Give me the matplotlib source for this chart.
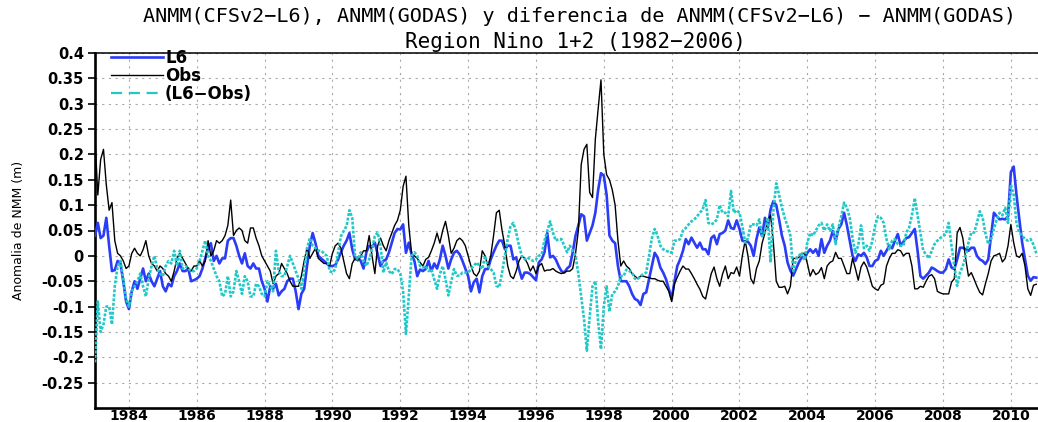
import numpy as np
import matplotlib
matplotlib.use("Agg")
import matplotlib.pyplot as plt
from matplotlib.lines import Line2D

# Monthly sea level anomalies (m), Nino 1+2, starting Jan 1983
start_year = 1983

obs = [
    0.23, 0.12, 0.19, 0.21, 0.14, 0.09, 0.105, 0.03, 0.005, 0.0, -0.01, -0.025,          # 1983
    -0.02, 0.005, 0.015, 0.005, 0.0, 0.012, 0.03, 0.0, -0.015, -0.02, -0.03, -0.02,      # 1984
    -0.025, -0.035, -0.04, -0.05, -0.03, -0.005, 0.005, -0.005, -0.015, -0.025, -0.03, -0.02,  # 1985
    -0.02, -0.01, -0.02, -0.01, 0.03, 0.0, 0.01, 0.03, 0.025, 0.03, 0.04, 0.06,          # 1986
    0.11, 0.04, 0.05, 0.055, 0.05, 0.03, 0.025, 0.055, 0.055, 0.035, 0.02, 0.0,          # 1987
    -0.01, -0.02, -0.03, -0.055, -0.04, -0.035, -0.015, -0.025, -0.035, -0.05, -0.06, -0.06,  # 1988
    -0.06, -0.04, -0.01, 0.015, -0.005, 0.005, 0.015, -0.005, -0.01, -0.015, -0.015, -0.02,  # 1989
    0.005, 0.02, 0.025, 0.015, -0.01, -0.035, -0.045, -0.015, -0.005, -0.01, 0.0, 0.01,  # 1990
    0.01, 0.04, 0.0, -0.035, 0.02, 0.035, 0.02, 0.01, 0.03, 0.045, 0.06, 0.07,           # 1991
    0.09, 0.137, 0.157, 0.06, 0.005, 0.0, -0.005, -0.013, -0.02, -0.007, -0.003, 0.01,   # 1992
    0.025, 0.045, 0.025, 0.05, 0.068, 0.04, 0.005, 0.015, 0.03, 0.035, 0.03, 0.02,       # 1993
    0.0, -0.02, -0.035, -0.04, -0.03, 0.01, 0.0, -0.02, 0.0, 0.04, 0.085, 0.09,          # 1994
    0.05, 0.02, -0.02, -0.04, -0.045, -0.03, -0.01, 0.0, -0.005, -0.015, -0.03, -0.02,   # 1995
    -0.035, -0.02, -0.015, -0.03, -0.028, -0.028, -0.025, -0.03, -0.033, -0.035, -0.033, -0.03,  # 1996
    -0.03, -0.025, 0.005, 0.05, 0.18, 0.21, 0.22, 0.125, 0.115, 0.23, 0.29, 0.347,       # 1997
    0.2, 0.16, 0.15, 0.13, 0.1, 0.03, -0.02, -0.01, -0.02, -0.025, -0.035, -0.04,        # 1998
    -0.045, -0.04, -0.04, -0.042, -0.043, -0.045, -0.045, -0.048, -0.05, -0.05, -0.06, -0.07,  # 1999
    -0.09, -0.055, -0.042, -0.03, -0.02, -0.026, -0.026, -0.035, -0.045, -0.056, -0.066, -0.08,  # 2000
    -0.085, -0.06, -0.035, -0.022, -0.045, -0.06, -0.036, -0.02, -0.045, -0.033, -0.035, -0.022,  # 2001
    -0.04, 0.0, 0.03, 0.0, -0.045, -0.055, -0.025, -0.01, 0.025, 0.045, 0.07, 0.08,      # 2002
    0.025, -0.05, -0.062, -0.062, -0.06, -0.075, -0.06, -0.005, -0.005, -0.003, 0.005, 0.005,  # 2003
    -0.015, -0.04, -0.027, -0.037, -0.033, -0.023, -0.045, -0.02, -0.013, -0.01, 0.007, -0.005,  # 2004
    -0.005, -0.02, -0.035, -0.035, -0.005, -0.025, -0.048, -0.022, -0.012, -0.022, -0.04, -0.06,  # 2005
    -0.065, -0.068, -0.058, -0.055, -0.02, -0.005, 0.005, 0.005, 0.012, 0.01, 0.0, 0.005,  # 2006
    0.005, -0.02, -0.065, -0.065, -0.06, -0.062, -0.05, -0.04, -0.037, -0.045, -0.07, -0.073,  # 2007
    -0.075, -0.075, -0.075, -0.052, -0.045, 0.045, 0.056, 0.035, -0.005, -0.04, -0.033, -0.046,  # 2008
    -0.06, -0.072, -0.077, -0.055, -0.035, -0.01, 0.0, 0.002, 0.005, -0.012, -0.005, 0.02,  # 2009
    0.062, 0.026, 0.0, -0.003, 0.005, -0.02, -0.065, -0.078, -0.058, -0.056,             # 2010
]

l6 = [
    0.04, 0.065, 0.035, 0.04, 0.075, 0.02, -0.03, -0.028, -0.01, -0.015, -0.05, -0.09,   # 1983
    -0.105, -0.07, -0.05, -0.065, -0.045, -0.025, -0.05, -0.035, -0.05, -0.06, -0.045, -0.03,  # 1984
    -0.06, -0.07, -0.055, -0.06, -0.04, -0.03, -0.015, -0.03, -0.03, -0.025, -0.05, -0.048,  # 1985
    -0.045, -0.04, -0.025, -0.005, 0.015, 0.025, -0.01, 0.0, -0.015, -0.005, -0.005, 0.03,  # 1986
    0.035, 0.035, 0.02, 0.0, -0.015, 0.005, -0.02, -0.025, -0.015, -0.025, -0.025, -0.05,  # 1987
    -0.065, -0.09, -0.06, -0.065, -0.055, -0.078, -0.07, -0.065, -0.05, -0.045, -0.045, -0.07,  # 1988
    -0.105, -0.075, -0.065, -0.02, 0.02, 0.045, 0.025, 0.0, -0.005, -0.01, -0.015, -0.02,  # 1989
    -0.02, -0.018, -0.007, 0.007, 0.02, 0.03, 0.045, 0.013, -0.007, -0.003, -0.01, -0.025,  # 1990
    0.007, 0.02, 0.017, 0.026, 0.003, -0.02, -0.01, -0.007, 0.007, 0.026, 0.045, 0.053,  # 1991
    0.052, 0.062, 0.006, 0.026, 0.003, -0.01, -0.04, -0.027, -0.03, -0.026, -0.01, -0.03,  # 1992
    -0.015, -0.025, -0.007, 0.02, 0.0, -0.025, -0.007, 0.006, 0.01, 0.003, -0.01, -0.025,  # 1993
    -0.04, -0.07, -0.052, -0.045, -0.072, -0.04, -0.026, -0.026, -0.007, 0.007, 0.02, 0.03,  # 1994
    0.03, 0.013, 0.02, 0.02, -0.007, -0.003, -0.026, -0.045, -0.033, -0.033, -0.036, -0.042,  # 1995
    -0.048, -0.013, -0.007, 0.007, 0.045, -0.003, 0.0, -0.007, -0.02, -0.03, -0.033, -0.025,  # 1996
    -0.02, 0.007, 0.04, 0.06, 0.082, 0.078, 0.03, 0.045, 0.06, 0.085, 0.13, 0.163,       # 1997
    0.158, 0.12, 0.04, 0.03, 0.025, -0.02, -0.05, -0.05, -0.05, -0.06, -0.075, -0.085,   # 1998
    -0.088, -0.097, -0.075, -0.072, -0.046, -0.02, 0.006, -0.003, -0.023, -0.033, -0.046, -0.065,  # 1999
    -0.085, -0.05, -0.02, -0.007, 0.01, 0.033, 0.023, 0.036, 0.026, 0.016, 0.026, 0.013,  # 2000
    0.013, 0.003, 0.035, 0.04, 0.023, 0.043, 0.045, 0.05, 0.07, 0.055, 0.053, 0.07,     # 2001
    0.053, 0.03, 0.028, 0.028, 0.02, 0.0, 0.033, 0.056, 0.039, 0.075, 0.056, 0.092,     # 2002
    0.108, 0.1, 0.072, 0.04, 0.02, -0.013, -0.029, -0.039, -0.026, -0.013, -0.003, -0.005,  # 2003
    0.006, 0.013, 0.006, 0.013, 0.0, 0.033, 0.006, 0.02, 0.03, 0.049, 0.03, 0.053,      # 2004
    0.062, 0.085, 0.06, 0.03, 0.0, -0.01, 0.003, 0.0, 0.006, -0.003, -0.02, -0.02,      # 2005
    -0.01, -0.007, 0.01, 0.0, 0.01, 0.02, 0.015, 0.03, 0.043, 0.02, 0.028, 0.035,       # 2006
    0.037, 0.045, 0.053, 0.01, -0.04, -0.045, -0.039, -0.033, -0.023, -0.026, -0.03, -0.033,  # 2007
    -0.033, -0.026, -0.007, -0.023, -0.026, -0.007, 0.016, 0.016, 0.013, 0.01, 0.016, 0.016,  # 2008
    0.0, -0.007, -0.01, -0.016, -0.007, 0.04, 0.085, 0.078, 0.072, 0.073, 0.072, 0.078,  # 2009
    0.165, 0.176, 0.12, 0.072, 0.026, -0.007, -0.039, -0.049, -0.042, -0.043,           # 2010
]

diff = [
    -0.21, -0.09, -0.15, -0.135, -0.1, -0.1, -0.135, -0.06, -0.02, -0.01, -0.045, -0.085,  # 1983
    -0.1, -0.07, -0.06, -0.05, -0.035, -0.06, -0.08, -0.045, -0.02, 0.0, -0.025, -0.035,  # 1984
    -0.04, -0.02, -0.01, -0.015, 0.01, -0.02, 0.01, -0.025, -0.02, -0.025, -0.03, -0.03,  # 1985
    -0.025, -0.01, 0.01, 0.03, 0.0, -0.01, -0.025, -0.04, -0.05, -0.08, -0.075, -0.04,   # 1986
    -0.08, -0.07, -0.03, -0.05, -0.075, -0.04, -0.05, -0.08, -0.08, -0.055, -0.06, -0.075,  # 1987
    -0.08, -0.05, -0.06, -0.07, 0.01, -0.03, -0.04, -0.04, -0.02, 0.0, -0.015, -0.03,    # 1988
    -0.045, -0.065, -0.03, 0.015, 0.035, 0.02, 0.015, 0.01, 0.01, 0.005, 0.0, -0.03,     # 1989
    -0.033, -0.026, 0.007, 0.039, 0.049, 0.059, 0.09, 0.075, 0.0, -0.007, 0.007, -0.01,  # 1990
    -0.02, -0.007, 0.013, 0.039, 0.046, 0.02, -0.033, -0.013, -0.03, -0.036, -0.026, -0.026,  # 1991
    -0.035, -0.07, -0.154, -0.08, 0.0, 0.007, 0.0, -0.02, -0.023, -0.02, -0.03, -0.026,  # 1992
    -0.046, -0.065, -0.036, -0.02, -0.046, -0.078, -0.052, -0.026, -0.039, -0.039, -0.033, -0.033,  # 1993
    -0.033, -0.026, -0.02, -0.013, -0.02, -0.026, 0.0, -0.02, -0.026, -0.033, -0.059, -0.062,  # 1994
    -0.033, 0.0, 0.033, 0.059, 0.065, 0.046, 0.02, 0.0, -0.007, -0.003, -0.007, -0.01,  # 1995
    -0.007, 0.0, 0.003, 0.03, 0.049, 0.068, 0.046, 0.03, 0.033, 0.033, 0.02, 0.007,     # 1996
    0.02, 0.01, 0.0, -0.035, -0.08, -0.125, -0.187, -0.12, -0.06, -0.05, -0.13, -0.184,  # 1997
    -0.1, -0.06, -0.11, -0.075, -0.07, -0.06, -0.04, -0.04, -0.027, -0.03, -0.033, -0.045,  # 1998
    -0.046, -0.04, -0.036, -0.033, 0.0, 0.035, 0.053, 0.04, 0.02, 0.013, 0.01, 0.008,   # 1999
    0.006, 0.03, 0.03, 0.033, 0.05, 0.055, 0.062, 0.068, 0.072, 0.078, 0.085, 0.092,    # 2000
    0.11, 0.065, 0.062, 0.065, 0.072, 0.1, 0.085, 0.085, 0.078, 0.128, 0.085, 0.09,     # 2001
    0.085, 0.059, 0.026, 0.035, 0.062, 0.062, 0.06, 0.072, 0.039, 0.046, 0.075, -0.013,  # 2002
    0.09, 0.143, 0.12, 0.095, 0.075, 0.059, 0.04, -0.03, -0.007, 0.0, 0.006, -0.008,    # 2003
    0.026, 0.045, 0.04, 0.05, 0.06, 0.065, 0.05, 0.062, 0.049, 0.062, 0.023, 0.055,     # 2004
    0.078, 0.105, 0.095, 0.075, 0.035, 0.006, 0.02, 0.06, 0.015, 0.02, 0.01, 0.03,      # 2005
    0.06, 0.078, 0.075, 0.065, 0.033, 0.013, 0.03, 0.033, 0.023, 0.02, 0.02, 0.046,     # 2006
    0.056, 0.08, 0.114, 0.08, 0.045, 0.01, 0.003, -0.005, 0.01, 0.023, 0.03, 0.035,     # 2007
    0.039, 0.043, 0.065, 0.02, -0.02, -0.059, -0.033, -0.02, 0.0, 0.026, 0.046, 0.046,  # 2008
    0.065, 0.088, 0.075, 0.045, 0.023, 0.033, 0.053, 0.072, 0.085, 0.08, 0.095, 0.065,  # 2009
    0.14, 0.12, 0.065, 0.046, 0.04, 0.033, 0.03, 0.033, 0.022, 0.005,                   # 2010
]

yticks = [0.4, 0.35, 0.3, 0.25, 0.2, 0.15, 0.1, 0.05, 0, -0.05, -0.1, -0.15, -0.2, -0.25]
ytick_labels = ["0.4", "0.35", "0.3", "0.25", "0.2", "0.15", "0.1", "0.05", "0",
                "-0.05", "-0.1", "-0.15", "-0.2", "-0.25"]
xticks = list(range(1984, 2011, 2))

title1 = "ANMM(CFSv2\u2212L6), ANMM(GODAS) y diferencia de ANMM(CFSv2\u2212L6) \u2212 ANMM(GODAS)"
title2 = "Region Nino 1+2 (1982\u22122006)"

blue = "#2b3cf6"
cyan = "#22c8c8"

t = start_year + np.arange(len(obs)) / 12.0

fig = plt.figure(figsize=(10.38, 4.22), dpi=100)
ax = fig.add_axes([95 / 1038, 14 / 422, 943 / 1038, 355 / 422])

ax.plot(t, l6, color=blue, lw=1.9, zorder=3)
ax.plot(t, obs, color="black", lw=1.0, zorder=4)
ax.plot(t, diff, color=cyan, lw=1.9, linestyle=(0, (1.1, 0.6)), zorder=5)

ax.set_xlim(1983.0, 2010.8)
ax.set_ylim(-0.3, 0.4)

ax.set_yticks(yticks)
ax.set_yticklabels(ytick_labels, fontsize=10.5, fontweight="bold")
ax.set_xticks(xticks)
ax.set_xticklabels([str(x) for x in xticks], fontsize=10, fontweight="bold")
ax.tick_params(axis="y", direction="out", length=5, width=1.2, pad=3)
ax.tick_params(axis="x", length=0, pad=0.5)

ax.grid(True, color="#aaaaaa", linestyle=(0, (2, 4)), linewidth=0.8)

for side in ("left", "bottom"):
    ax.spines[side].set_linewidth(1.9)
ax.spines["top"].set_linewidth(1.1)
ax.spines["right"].set_visible(False)

ax.set_ylabel("Anomalia de NMM (m)", fontsize=9)
ax.yaxis.set_label_coords(-0.074, 0.5)

handles = [
    Line2D([], [], color=blue, lw=1.9),
    Line2D([], [], color="black", lw=1.0),
    Line2D([], [], color=cyan, lw=1.6, linestyle=(0, (5, 3))),
]
leg = ax.legend(handles, ["L6", "Obs", "(L6\u2212Obs)"], loc="upper left",
                bbox_to_anchor=(0.008, 1.035), frameon=False, handlelength=3.1,
                handletextpad=0.15, labelspacing=0.0, borderpad=0.0,
                prop={"weight": "bold", "size": 12})

fig.text(0.558, 1 - 17 / 422, title1, ha="center", va="center", fontsize=14.5,
         family="DejaVu Sans Mono")
fig.text(0.554, 1 - 42 / 422, title2, ha="center", va="center", fontsize=15,
         family="DejaVu Sans Mono")

fig.savefig("out.png", dpi=100)
